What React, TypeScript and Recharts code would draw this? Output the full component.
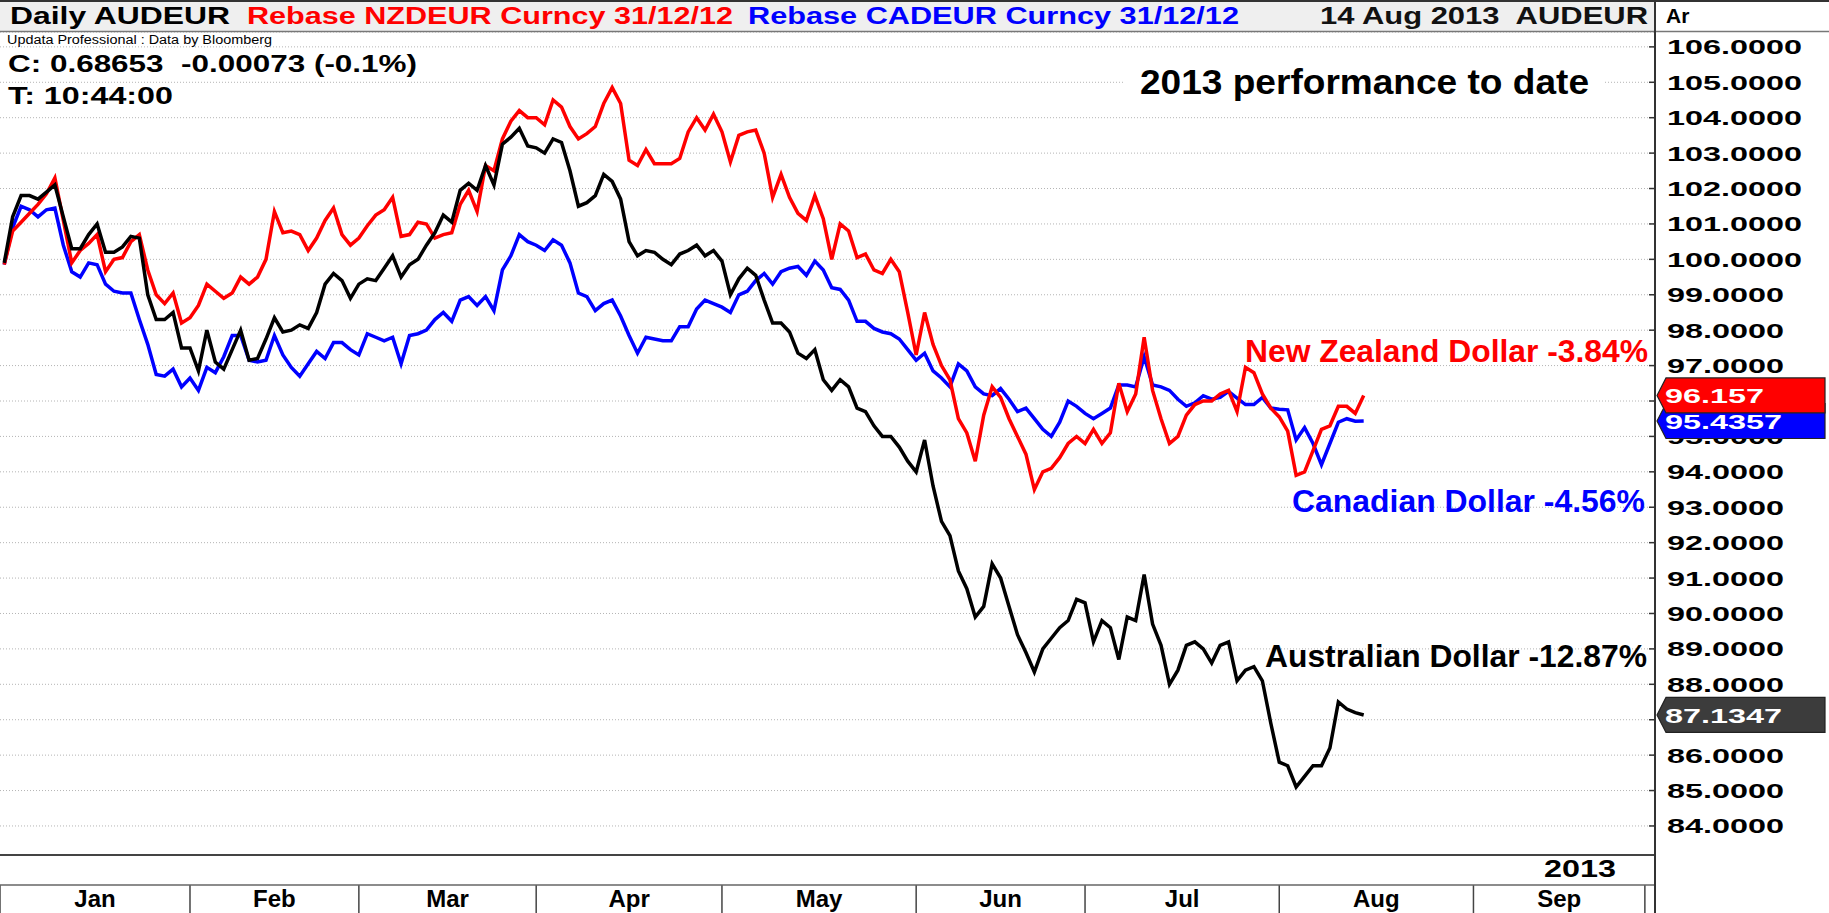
import { LineChart, Line, XAxis, YAxis, CartesianGrid, ReferenceLine } from "recharts"

const W = 1829
const H = 913
const FONT = "'Liberation Sans', Arial, sans-serif"

// rebased to 100 on 31/12/12, one value per trading day
const audEur = [
  99.9, 101.2, 101.8, 101.8, 101.7, 101.9, 102.1, 101.2, 100.3, 100.3,
  100.7, 101.0, 100.2, 100.2, 100.35, 100.65, 100.6, 99.0, 98.3, 98.3,
  98.5, 97.5, 97.5, 96.85, 98.0, 97.1, 96.9, 97.45, 98.0, 97.15,
  97.2, 97.75, 98.35, 97.95, 98.0, 98.15, 98.05, 98.5, 99.3, 99.6,
  99.4, 98.9, 99.3, 99.45, 99.4, 99.75, 100.1, 99.5, 99.85, 100.0,
  100.4, 100.75, 101.25, 101.05, 101.95, 102.15, 101.95, 102.65, 102.1, 103.25,
  103.45, 103.7, 103.2, 103.15, 103.0, 103.4, 103.3, 102.5, 101.5, 101.6,
  101.8, 102.4, 102.2, 101.7, 100.5, 100.1, 100.25, 100.2, 100.0, 99.85,
  100.15, 100.25, 100.4, 100.1, 100.25, 99.95, 99.0, 99.45, 99.75, 99.55,
  98.85, 98.2, 98.2, 97.95, 97.35, 97.2, 97.45, 96.6, 96.3, 96.6,
  96.4, 95.8, 95.7, 95.3, 95.0, 95.0, 94.7, 94.3, 94.0, 94.9,
  93.6, 92.6, 92.2, 91.2, 90.7, 89.9, 90.2, 91.4, 91.0, 90.2,
  89.4, 88.9, 88.35, 89.0, 89.3, 89.6, 89.8, 90.4, 90.3, 89.2,
  89.8, 89.6, 88.7, 89.9, 89.8, 91.1, 89.7, 89.1, 88.0, 88.4,
  89.1, 89.2, 89.0, 88.6, 89.1, 89.2, 88.1, 88.4, 88.5, 88.1,
  86.9, 85.8, 85.7, 85.1, 85.4, 85.7, 85.7, 86.2, 87.5, 87.3,
  87.2, 87.1347,
]

const nzdEur = [
  99.85, 100.8, 101.05, 101.3, 101.55, 101.85, 102.3, 101.1, 99.9, 100.25,
  100.45, 100.7, 99.65, 100.0, 100.05, 100.5, 100.7, 99.7, 99.0, 98.75,
  99.05, 98.2, 98.35, 98.7, 99.3, 99.1, 98.9, 99.05, 99.5, 99.3,
  99.5, 100.0, 101.35, 100.75, 100.8, 100.7, 100.25, 100.6, 101.1, 101.45,
  100.7, 100.4, 100.6, 100.95, 101.25, 101.4, 101.75, 100.65, 100.7, 101.05,
  101.0, 100.6, 100.7, 100.75, 101.55, 101.95, 101.35, 102.65, 102.5, 103.4,
  103.9, 104.2, 104.0, 104.0, 103.8, 104.5, 104.3, 103.75, 103.4, 103.55,
  103.75, 104.4, 104.85, 104.4, 102.8, 102.65, 103.1, 102.7, 102.7, 102.7,
  102.85, 103.6, 104.0, 103.65, 104.1, 103.6, 102.75, 103.5, 103.6, 103.65,
  103.0, 101.75, 102.4, 101.75, 101.3, 101.1, 101.8, 101.15, 100.0, 101.0,
  100.8, 100.05, 100.15, 99.7, 99.6, 100.0, 99.65, 98.5, 97.3, 98.5,
  97.6, 97.0, 96.6, 95.5, 95.1, 94.3, 95.6, 96.4, 96.1, 95.5,
  95.0, 94.5, 93.5, 94.0, 94.1, 94.4, 94.8, 95.0, 94.8, 95.2,
  94.8, 95.1, 96.5, 95.7, 96.2, 97.8, 96.3, 95.5, 94.8, 95.0,
  95.6, 95.9, 96.0, 96.0, 96.2, 96.3, 95.7, 96.95, 96.8, 96.2,
  95.8, 95.55, 95.15, 93.9, 94.0, 94.6, 95.2, 95.3, 95.85, 95.85,
  95.65, 96.157,
]

const cadEur = [
  99.85, 100.9, 101.5, 101.4, 101.2, 101.4, 101.45, 100.4, 99.65, 99.5,
  99.9, 99.85, 99.3, 99.1, 99.05, 99.05, 98.3, 97.6, 96.75, 96.7,
  96.9, 96.4, 96.65, 96.3, 96.95, 96.8, 97.25, 97.85, 97.85, 97.15,
  97.1, 97.15, 97.85, 97.3, 96.95, 96.7, 97.05, 97.4, 97.2, 97.65,
  97.65, 97.45, 97.3, 97.9, 97.8, 97.7, 97.8, 97.05, 97.85, 97.9,
  98.0, 98.3, 98.5, 98.25, 98.85, 98.95, 98.7, 98.95, 98.55, 99.7,
  100.1, 100.7, 100.5, 100.4, 100.25, 100.55, 100.4, 99.9, 99.05, 98.95,
  98.55, 98.75, 98.85, 98.4, 97.85, 97.35, 97.8, 97.75, 97.7, 97.7,
  98.1, 98.1, 98.6, 98.85, 98.75, 98.65, 98.5, 99.0, 99.1, 99.4,
  99.6, 99.3, 99.65, 99.75, 99.8, 99.55, 99.95, 99.7, 99.2, 99.15,
  98.85, 98.25, 98.25, 98.05, 97.95, 97.9, 97.75, 97.45, 97.15, 97.35,
  96.85, 96.65, 96.4, 97.05, 96.85, 96.4, 96.2, 96.15, 96.35, 96.05,
  95.7, 95.8, 95.5, 95.2, 95.0, 95.4, 96.0, 95.85, 95.65, 95.5,
  95.65, 95.8, 96.45, 96.45, 96.4, 97.25, 96.45, 96.4, 96.3, 96.05,
  95.85, 95.95, 96.15, 96.05, 96.1, 96.27, 96.08, 95.9, 95.9, 96.1,
  95.8, 95.77, 95.75, 94.9, 95.25, 94.8, 94.2, 94.8, 95.4, 95.5,
  95.43, 95.4357,
]

const monthNames = ["Jan", "Feb", "Mar", "Apr", "May", "Jun", "Jul", "Aug", "Sep"]
// day index where each month column starts (last one closes Sep)
const monthStarts = [-0.5, 22, 42, 63, 85, 108, 128, 151, 174, 194.3]
const priceTicks = [84, 85, 86, 87, 88, 89, 90, 91, 92, 93, 94, 95, 96, 97, 98, 99, 100, 101, 102, 103, 104, 105, 106]

const chartData = audEur.map((v, i) => ({ day: i, aud: v, nzd: nzdEur[i], cad: cadEur[i] }))
const monthMids = monthNames.map((_, k) => (monthStarts[k] + monthStarts[k + 1]) / 2)
const xTicks = [...monthStarts, ...monthMids]

const lastAud = audEur[audEur.length - 1]
const lastNzd = nzdEur[nzdEur.length - 1]
const lastCad = cadEur[cadEur.length - 1]
const lastValues = [lastAud, lastNzd, lastCad]

const numWidth = (s: string) => (s.length - 1) * 18 + 9

function MonthTick(props: any) {
  const { x, y, payload } = props
  const k = monthMids.indexOf(payload.value)
  if (k >= 0) {
    return (
      <text x={x} y={y + 52} textAnchor="middle" fontFamily={FONT} fontWeight="bold" fontSize={24} fill="#000">
        {monthNames[k]}
      </text>
    )
  }
  return <line x1={x} x2={x} y1={y + 30} y2={y + 58} stroke="#444" strokeWidth={1.5} />
}

function PriceTick(props: any) {
  const { x, y, payload } = props
  const label = Number(payload.value).toFixed(4)
  // labels sitting right under a last-value badge are hidden by it
  const covered = lastValues.some((v) => Math.abs(v - payload.value) < 0.3)
  return (
    <g>
      <line x1={x - 6} x2={x} y1={y} y2={y} stroke="#333" strokeWidth={1.5} />
      {!covered && (
        <text
          x={x + 12}
          y={y + 7.5}
          fontFamily={FONT}
          fontWeight="bold"
          fontSize={21}
          fill="#000"
          textLength={numWidth(label)}
          lengthAdjust="spacingAndGlyphs"
        >
          {label}
        </text>
      )}
    </g>
  )
}

function Badge(props: any) {
  const { viewBox, fill, text } = props
  if (!viewBox) return null
  const x = viewBox.x + viewBox.width + 2
  const y = viewBox.y
  const h = 17.5
  const pts = `${x},${y} ${x + 9},${y - h} ${x + 168},${y - h} ${x + 168},${y + h} ${x + 9},${y + h}`
  return (
    <g>
      <polygon points={pts} fill={fill} stroke="#222" strokeWidth={1.2} />
      <text
        x={x + 8}
        y={y + 8}
        fontFamily={FONT}
        fontWeight="bold"
        fontSize={21}
        fill="#fff"
        textLength={numWidth(text)}
        lengthAdjust="spacingAndGlyphs"
      >
        {text}
      </text>
    </g>
  )
}

export default function App() {
  return (
    <div style={{ position: "absolute", left: 0, top: 0, width: W, height: H, background: "#fff" }}>
      <LineChart width={W} height={H} data={chartData} margin={{ top: 32, right: 0, bottom: 0, left: 0 }}>
        <CartesianGrid vertical={false} stroke="#b4b4b4" strokeDasharray="1 2" />
        <XAxis
          dataKey="day"
          type="number"
          domain={[-0.5, 195.5]}
          ticks={xTicks}
          interval={0}
          height={58}
          axisLine={false}
          tickLine={false}
          tickSize={0}
          tickMargin={0}
          tick={<MonthTick />}
          allowDataOverflow
        />
        <YAxis
          orientation="right"
          width={174}
          domain={[83.18, 106.42]}
          ticks={priceTicks}
          interval={0}
          axisLine={false}
          tickLine={false}
          tickSize={0}
          tickMargin={0}
          tick={<PriceTick />}
          allowDataOverflow
        />
        <Line type="linear" dataKey="cad" stroke="#0000ff" strokeWidth={3.5} dot={false} activeDot={false} isAnimationActive={false} />
        <Line type="linear" dataKey="nzd" stroke="#ff0000" strokeWidth={3.5} dot={false} activeDot={false} isAnimationActive={false} />
        <Line type="linear" dataKey="aud" stroke="#000000" strokeWidth={3.5} dot={false} activeDot={false} isAnimationActive={false} />
        <ReferenceLine zIndex={3000} y={lastAud} stroke="none" label={<Badge fill="#3c3c3c" text={String(lastAud)} />} />
        <ReferenceLine zIndex={3000} y={lastCad} stroke="none" label={<Badge fill="#0000ff" text={String(lastCad)} />} />
        <ReferenceLine zIndex={3001} y={lastNzd} stroke="none" label={<Badge fill="#ff0000" text={String(lastNzd)} />} />
      </LineChart>

      <svg
        width={W}
        height={H}
        style={{ position: "absolute", left: 0, top: 0, pointerEvents: "none" }}
        fontFamily={FONT}
      >
        {/* header strip */}
        <rect x={0} y={2} width={1655} height={29} fill="#efefef" />
        <line x1={0} x2={W} y1={1} y2={1} stroke="#333" strokeWidth={2} />
        <line x1={0} x2={W} y1={31.5} y2={31.5} stroke="#777" strokeWidth={1.5} />
        <text x={10} y={24} fontSize={23} fontWeight="bold" fill="#000" textLength={220} lengthAdjust="spacingAndGlyphs">Daily AUDEUR</text>
        <text x={247} y={24} fontSize={23} fontWeight="bold" fill="#ff0000" textLength={486} lengthAdjust="spacingAndGlyphs">Rebase NZDEUR Curncy 31/12/12</text>
        <text x={748} y={24} fontSize={23} fontWeight="bold" fill="#0000ff" textLength={491} lengthAdjust="spacingAndGlyphs">Rebase CADEUR Curncy 31/12/12</text>
        <text x={1320} y={24} fontSize={23} fontWeight="bold" fill="#111" textLength={328} lengthAdjust="spacingAndGlyphs" xmlSpace="preserve">14 Aug 2013  AUDEUR</text>
        <text x={1666} y={23} fontSize={21} fontWeight="bold" fill="#000">Ar</text>

        {/* info lines */}
        <text x={7} y={44} fontSize={12} fill="#000" textLength={265} lengthAdjust="spacingAndGlyphs">Updata Professional : Data by Bloomberg</text>
        <text x={8} y={72} fontSize={23} fontWeight="bold" fill="#000" textLength={409} lengthAdjust="spacingAndGlyphs" xmlSpace="preserve">C: 0.68653  -0.00073 (-0.1%)</text>
        <text x={8} y={104} fontSize={23} fontWeight="bold" fill="#000" textLength={165} lengthAdjust="spacingAndGlyphs">T: 10:44:00</text>

        {/* annotations */}
        <rect x={1125} y={58} width={480} height={46} fill="#fff" />
        <text x={1140} y={94} fontSize={35} fontWeight="bold" fill="#000" textLength={449} lengthAdjust="spacingAndGlyphs">2013 performance to date</text>
        <text x={1245} y={362} fontSize={32} fontWeight="bold" fill="#ff0000" textLength={403} lengthAdjust="spacingAndGlyphs">New Zealand Dollar -3.84%</text>
        <text x={1292} y={512} fontSize={32} fontWeight="bold" fill="#0000ff" textLength={353} lengthAdjust="spacingAndGlyphs">Canadian Dollar -4.56%</text>
        <text x={1265} y={667} fontSize={32} fontWeight="bold" fill="#000" textLength={382} lengthAdjust="spacingAndGlyphs">Australian Dollar -12.87%</text>

        {/* bottom bands */}
        <line x1={0} x2={1655} y1={855} y2={855} stroke="#444" strokeWidth={2} />
        <line x1={0} x2={1655} y1={885} y2={885} stroke="#666" strokeWidth={1.5} />
        <text x={1544} y={877} fontSize={23} fontWeight="bold" fill="#000" textLength={72} lengthAdjust="spacingAndGlyphs">2013</text>

        {/* price axis border */}
        <line x1={1655} x2={1655} y1={0} y2={H} stroke="#333" strokeWidth={2} />
      </svg>
    </div>
  )
}
